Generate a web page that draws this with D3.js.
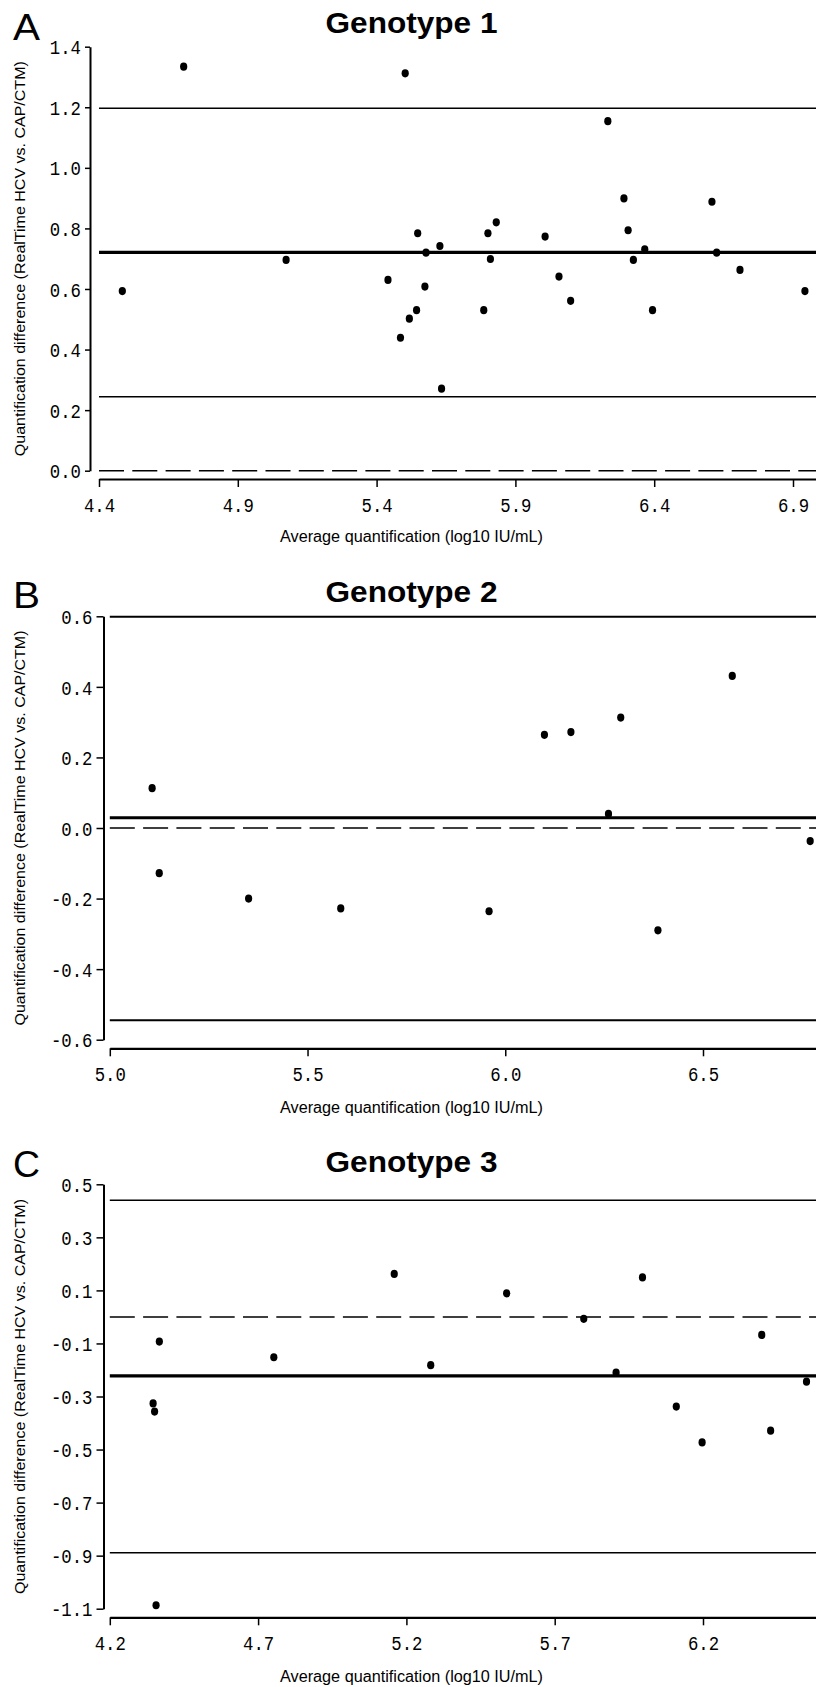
<!DOCTYPE html>
<html>
<head>
<meta charset="utf-8">
<script src="https://cdn.jsdelivr.net/npm/d3@7"></script>
<style>
  html, body { margin: 0; padding: 0; background: #fff; }
  svg { display: block; }
</style>
</head>
<body>
<svg id="chart" width="816" height="1687"></svg>
<script>
// ---------------- DATA ----------------
const panelLetters = ["A", "B", "C"];
const panelTitles = ["Genotype 1", "Genotype 2", "Genotype 3"];
const xAxisTitle = "Average quantification (log10 IU/mL)";
const yAxisTitle = "Quantification difference (RealTime HCV vs. CAP/CTM)";

// Genotype 1
const g1X = [4.705, 5.503, 6.233, 6.291, 6.608, 5.831, 5.548, 5.801, 6.306, 6.007,
             5.628, 5.578, 6.366, 6.625, 5.074, 5.810, 6.325, 6.709, 5.441, 6.057,
             4.484, 5.574, 6.943, 6.099, 5.544, 5.786, 6.394, 5.518, 5.486, 5.634];
const g1Y = [1.334, 1.312, 1.154, 0.899, 0.888, 0.820, 0.784, 0.784, 0.794, 0.773,
             0.742, 0.720, 0.731, 0.720, 0.696, 0.699, 0.696, 0.663, 0.630, 0.641,
             0.593, 0.608, 0.593, 0.561, 0.530, 0.530, 0.530, 0.502, 0.439, 0.271];
const g1Mean = 0.721, g1Upper = 1.197, g1Lower = 0.244;
const g1XTicks = [4.4, 4.9, 5.4, 5.9, 6.4, 6.9];
const g1YTicks = [0.0, 0.2, 0.4, 0.6, 0.8, 1.0, 1.2, 1.4];

// Genotype 2
const g2X = [5.107, 6.099, 6.166, 6.292, 6.574, 6.261, 6.771, 5.125, 5.351, 5.584, 5.959, 6.386];
const g2Y = [0.113, 0.264, 0.272, 0.313, 0.431, 0.040, -0.037, -0.128, -0.200, -0.228, -0.236, -0.290];
const g2Mean = 0.029, g2Upper = 0.599, g2Lower = -0.545;
const g2XTicks = [5.0, 5.5, 6.0, 6.5];
const g2YTicks = [-0.6, -0.4, -0.2, 0.0, 0.2, 0.4, 0.6];

// Genotype 3
const g3X = [5.159, 5.996, 5.538, 5.798, 4.367, 6.398, 4.753, 5.282, 5.907, 6.549,
             4.346, 4.351, 6.110, 6.197, 6.428, 4.356];
const g3Y = [0.162, 0.149, 0.089, -0.007, -0.093, -0.068, -0.152, -0.182, -0.210, -0.244,
             -0.326, -0.357, -0.338, -0.473, -0.429, -1.087];
const g3Mean = -0.222, g3Upper = 0.440, g3Lower = -0.889;
const g3XTicks = [4.2, 4.7, 5.2, 5.7, 6.2];
const g3YTicks = [-1.1, -0.9, -0.7, -0.5, -0.3, -0.1, 0.1, 0.3, 0.5];

// ---------------- LAYOUT ----------------
const layouts = [
  { yAxisX: 90,    yTop: 46.7,   yBot: 470.7,  xAxisY: 479,    x0: 99,    x1: 793, tickLen: 5,
    titleY: 33.3,   letterY: 40,   xTitleY: 542 },
  { yAxisX: 103.5, yTop: 616.3,  yBot: 1039.7, xAxisY: 1048.3, x0: 109.8, x1: 703, tickLen: 7,
    titleY: 601.7,  letterY: 608,  xTitleY: 1113 },
  { yAxisX: 103.5, yTop: 1184.3, yBot: 1608.7, xAxisY: 1617.3, x0: 109.8, x1: 703, tickLen: 7,
    titleY: 1171.7, letterY: 1177, xTitleY: 1682 }
];
const refWidths = [1.5, 2, 1.6];

const panels = [
  { xs: g1X, ys: g1Y, mean: g1Mean, upper: g1Upper, lower: g1Lower, xTicks: g1XTicks, yTicks: g1YTicks },
  { xs: g2X, ys: g2Y, mean: g2Mean, upper: g2Upper, lower: g2Lower, xTicks: g2XTicks, yTicks: g2YTicks },
  { xs: g3X, ys: g3Y, mean: g3Mean, upper: g3Upper, lower: g3Lower, xTicks: g3XTicks, yTicks: g3YTicks }
];

const svg = d3.select("#chart");
const W = 816;
const fmt = v => {
  const s = Math.abs(v).toFixed(1);
  return (v < -1e-9 ? "-" : "") + s;
};
const CHAR_W = 10.4;
const styleTick = sel => sel
  .attr("font-family", "Liberation Mono, DejaVu Sans Mono, monospace")
  .attr("font-size", 21)
  .attr("fill", "#000")
  .attr("textLength", function () { return this.textContent.length * CHAR_W; })
  .attr("lengthAdjust", "spacingAndGlyphs");

panels.forEach((p, i) => {
  const L = layouts[i];
  const g = svg.append("g");

  const xt = p.xTicks;
  const xBase = d3.scaleLinear().domain([xt[0], xt[xt.length - 1]]).range([L.x0, L.x1]);
  const x = d3.scaleLinear().domain([xt[0], xBase.invert(W + 10)]).range([L.x0, W + 10]);
  const yt = p.yTicks;
  const y = d3.scaleLinear().domain([yt[0], yt[yt.length - 1]]).range([L.yBot, L.yTop]);

  // Panel letter
  g.append("text")
    .attr("x", 13).attr("y", L.letterY)
    .attr("font-family", "Liberation Sans, Arial, sans-serif")
    .attr("font-size", 36)
    .attr("textLength", 27).attr("lengthAdjust", "spacingAndGlyphs")
    .attr("fill", "#000")
    .text(panelLetters[i]);

  // Title
  g.append("text")
    .attr("x", 411.5).attr("y", L.titleY)
    .attr("text-anchor", "middle")
    .attr("font-family", "Liberation Sans Narrow, Liberation Sans, Arial, sans-serif")
    .attr("font-weight", "bold")
    .attr("font-size", 30)
    .attr("textLength", 172).attr("lengthAdjust", "spacingAndGlyphs")
    .attr("fill", "#000")
    .text(panelTitles[i]);

  // Y axis
  const yAxis = d3.axisLeft(y).tickValues(yt).tickFormat(fmt)
    .tickSizeInner(L.tickLen).tickSizeOuter(0).tickPadding(4);
  const gy = g.append("g").attr("transform", `translate(${L.yAxisX},0)`).call(yAxis);
  gy.select(".domain").attr("stroke", "#000").attr("stroke-width", 2);
  gy.selectAll(".tick line").attr("stroke", "#000").attr("stroke-width", 1.5);
  gy.selectAll(".tick text").call(styleTick).attr("dy", "0.34em");

  // X axis
  const xAxis = d3.axisBottom(x).tickValues(xt).tickFormat(fmt)
    .tickSizeInner(8).tickSizeOuter(0);
  const gx = g.append("g").attr("transform", `translate(0,${L.xAxisY})`).call(xAxis);
  gx.select(".domain").attr("stroke", "#000").attr("stroke-width", 2.2);
  gx.selectAll(".tick line").attr("stroke", "#000").attr("stroke-width", 1.5);
  gx.selectAll(".tick text").call(styleTick).attr("y", 33).attr("dy", 0);

  // Reference lines
  const xEnd = W + 10;
  const refs = [
    { v: p.upper, w: refWidths[i], dash: null },
    { v: p.lower, w: refWidths[i], dash: null },
    { v: p.mean, w: 3.2, dash: null },
    { v: 0, w: 1.6, dash: "25,8.3" }
  ];
  g.selectAll(".ref").data(refs).enter().append("line")
    .attr("x1", L.x0).attr("x2", xEnd)
    .attr("y1", d => y(d.v)).attr("y2", d => y(d.v))
    .attr("stroke", "#000")
    .attr("stroke-width", d => d.w)
    .attr("stroke-dasharray", d => d.dash);

  // Points
  const pts = p.xs.map((xv, k) => ({ x: xv, y: p.ys[k] }));
  g.selectAll(".pt").data(pts).enter().append("ellipse")
    .attr("cx", d => x(d.x)).attr("cy", d => y(d.y))
    .attr("rx", 3.6).attr("ry", 4.1)
    .attr("fill", "#000");

  // X axis title
  g.append("text")
    .attr("x", 411.5).attr("y", L.xTitleY)
    .attr("text-anchor", "middle")
    .attr("font-family", "Liberation Sans Narrow, Liberation Sans, Arial, sans-serif")
    .attr("font-size", 16)
    .attr("textLength", 263).attr("lengthAdjust", "spacingAndGlyphs")
    .attr("fill", "#000")
    .text(xAxisTitle);

  // Y axis title
  const cy = (L.yTop + L.yBot) / 2;
  g.append("text")
    .attr("transform", `translate(25,${cy}) rotate(-90)`)
    .attr("text-anchor", "middle")
    .attr("font-family", "Liberation Sans, Arial, sans-serif")
    .attr("font-size", 15)
    .attr("textLength", 395).attr("lengthAdjust", "spacingAndGlyphs")
    .attr("fill", "#000")
    .text(yAxisTitle);
});
</script>
</body>
</html>
